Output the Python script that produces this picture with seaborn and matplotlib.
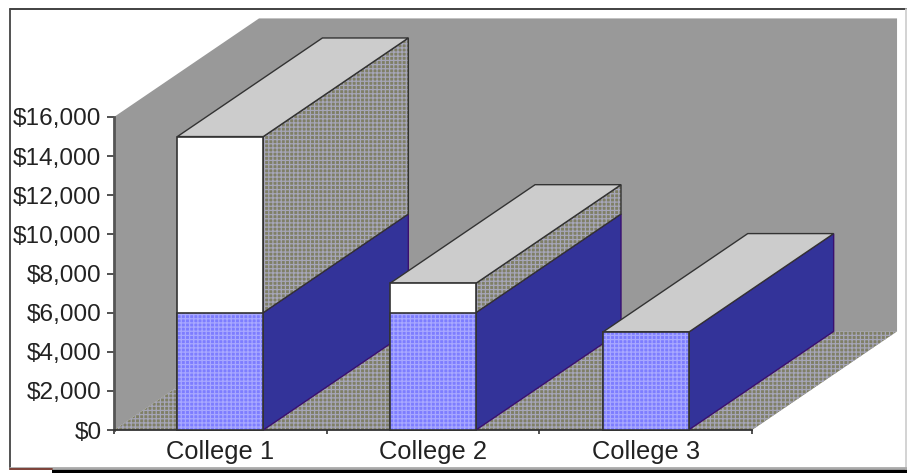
import seaborn as sns
import matplotlib
matplotlib.use("Agg")
import matplotlib.pyplot as plt
from matplotlib.lines import Line2D
from matplotlib.patches import Polygon, Rectangle

colleges = ["College 1", "College 2", "College 3"]
lower = [6000, 6000, 5000]
upper = [9000, 1500, 0]
yticks = [0, 2000, 4000, 6000, 8000, 10000, 12000, 14000, 16000]

# the slant of the fake 3d box, in data units
depth_x = 0.682
depth_y = 5040
bar_w = 0.404

wall_col = "#999999"
top_col = "#cccccc"
side_col = "#333399"
edge_col = "#333333"
dither = "++++"
dither_base = "#7f7f66"
dither_line = "#a6a6b8"

sns.set_theme(style="white")
plt.rcParams["font.family"] = ["Liberation Sans", "DejaVu Sans"]
plt.rcParams["hatch.linewidth"] = 0.9

W, H = 907, 473
fig = plt.figure(figsize=(W / 100, H / 100), dpi=100)
ax = fig.add_axes([114 / W, 1 - 430 / H, (752 - 114) / W, (430 - 117) / H])
ax.patch.set_visible(False)

totals = [a + b for a, b in zip(lower, upper)]

# seaborn draws the front faces, totals first and the lower part over them
sns.barplot(x=colleges, y=totals, color="white", saturation=1, width=bar_w,
            edgecolor=edge_col, linewidth=1.2, ax=ax)
n_total = len(ax.patches)
sns.barplot(x=colleges, y=lower, color="#7d7dff", saturation=1, width=bar_w,
            edgecolor=edge_col, linewidth=1.2, ax=ax)
front_faces = list(ax.patches)

ax.set_xlim(-0.5, 2.5)
ax.set_ylim(0, 16000)


def add_poly(pts, zorder, **kw):
    kw.setdefault("edgecolor", edge_col)
    kw.setdefault("linewidth", 1.0)
    p = Polygon(pts, closed=True, zorder=zorder, clip_on=False, **kw)
    ax.add_patch(p)
    return p


x0, x1 = ax.get_xlim()
ymax = yticks[-1]

# back wall and floor
add_poly([(x0, 0), (x0, ymax), (x0 + depth_x, ymax + depth_y), (x1 + depth_x, ymax + depth_y),
          (x1 + depth_x, depth_y), (x0 + depth_x, depth_y)],
         0.5, facecolor=wall_col, edgecolor="none")
add_poly([(x0, 0), (x1, 0), (x1 + depth_x, depth_y), (x0 + depth_x, depth_y)],
         0.6, facecolor=dither_base, hatch=dither, edgecolor=dither_line, linewidth=0)

# sides and tops, left to right so that a later bar hides the earlier one
for i, name in enumerate(colleges):
    right = i + bar_w / 2
    left = i - bar_w / 2
    z = 2 + i
    add_poly([(right, 0), (right + depth_x, depth_y), (right + depth_x, lower[i] + depth_y), (right, lower[i])],
             z, facecolor=side_col, edgecolor="#3a1070")
    if upper[i] > 0:
        side = [(right, lower[i]), (right + depth_x, lower[i] + depth_y),
                (right + depth_x, totals[i] + depth_y), (right, totals[i])]
        add_poly(side, z, facecolor=dither_base, hatch=dither, edgecolor=dither_line, linewidth=0)
        add_poly(side, z, facecolor="none")
    add_poly([(left, totals[i]), (right, totals[i]), (right + depth_x, totals[i] + depth_y),
              (left + depth_x, totals[i] + depth_y)],
             z, facecolor=top_col)

# put the seaborn faces in the same order as the sides
for j, b in enumerate(front_faces):
    b.set_zorder(2.5 + round(b.get_x() + bar_w / 2))
    b.set_clip_on(False)
    if j >= n_total:
        b.set_hatch(dither)
        b.set_edgecolor("#a8a8ff")
        b.set_linewidth(0)
        ax.add_patch(Rectangle((b.get_x(), b.get_y()), b.get_width(), b.get_height(), fill=False,
                               edgecolor=edge_col, linewidth=1.2, zorder=b.get_zorder() + 0.1, clip_on=False))

ax.set_yticks(yticks)
ax.set_yticklabels([f"${v:,}" for v in yticks])
ax.set_xticks([x0, 0.5, 1.5, x1], minor=True)
ax.set_xticks([0, 1, 2])
ax.set_xticklabels(colleges)
ax.tick_params(axis="x", which="major", length=0, pad=7, labelsize=18.4, labelcolor="#222222")
ax.tick_params(axis="x", which="minor", length=3, width=1.2, color=edge_col, bottom=True)
ax.tick_params(axis="y", length=5, width=1.2, color=edge_col, left=True, pad=4, labelsize=17.6, labelcolor="#222222")
sns.despine(ax=ax, top=True, right=True)
ax.spines["left"].set_color("#555555")
ax.spines["left"].set_linewidth(2)
ax.spines["bottom"].set_color(edge_col)
ax.spines["bottom"].set_linewidth(1.3)
for sp in ax.spines.values():
    sp.set_zorder(1)


def frame_line(xa, ya, xb, yb, color, lw=1.3):
    fig.add_artist(Line2D([xa / W, xb / W], [1 - ya / H, 1 - yb / H], color=color, linewidth=lw,
                          transform=fig.transFigure))


# picture frame and the black band under it
frame_line(10, 9, 907, 9, "#333333")
frame_line(10, 9, 10, 469, "#444444")
frame_line(906, 9, 906, 469, "#d0d0d0")
frame_line(10, 468, 907, 468, "#aaaaaa", 2)
frame_line(10, 469, 52, 469, "#7a3a30")
fig.add_artist(Rectangle((52 / W, 0), (W - 52) / W, 4 / H, transform=fig.transFigure,
                         facecolor="black", edgecolor="none"))

fig.savefig("out.png", dpi=100)
